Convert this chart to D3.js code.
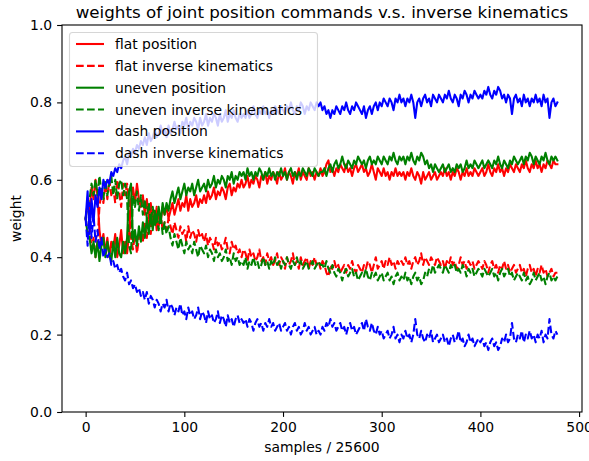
<!DOCTYPE html>
<html>
<head>
<meta charset="utf-8">
<script src="https://cdn.jsdelivr.net/npm/d3@7"></script>
<style>
  html, body { margin: 0; padding: 0; background: #fff; }
  svg { display: block; font-family: "DejaVu Sans", sans-serif; }
</style>
</head>
<body>
<svg id="chart" width="589" height="461"></svg>
<script>
// ---- data (read every 2 steps of "samples / 25600") ----
const sampleStep = 2;
const title = "weights of joint position commands v.s. inverse kinematics";
const xLabel = "samples / 25600";
const yLabel = "weight";
const xTicks = [0, 100, 200, 300, 400, 500];
const yTicks = [0.0, 0.2, 0.4, 0.6, 0.8, 1.0];
const seriesNames = ["flat position", "flat inverse kinematics", "uneven position",
                     "uneven inverse kinematics", "dash position", "dash inverse kinematics"];
const seriesColors = ["#ff0000", "#ff0000", "#008000", "#008000", "#0000ff", "#0000ff"];
const seriesDashed = [false, true, false, true, false, true];

const flatPosition = [
  0.50,0.54,0.52,0.58,0.55,0.60,0.56,0.47,0.43,0.46,0.41,0.45,0.40,0.44,0.42,0.46,0.40,0.43,0.47,0.41,
  0.44,0.41,0.46,0.55,0.58,0.54,0.59,0.55,0.53,0.56,0.51,0.55,0.50,0.54,0.48,0.52,0.47,0.52,0.49,0.53,
  0.51,0.53,0.50,0.52,0.54,0.51,0.53,0.55,0.52,0.54,0.53,0.56,0.52,0.55,0.53,0.54,0.56,0.53,0.55,0.54,
  0.56,0.54,0.57,0.55,0.56,0.58,0.55,0.57,0.56,0.58,0.57,0.55,0.58,0.59,0.56,0.58,0.57,0.59,0.58,0.60,
  0.58,0.59,0.61,0.58,0.60,0.59,0.61,0.60,0.58,0.61,0.60,0.62,0.59,0.61,0.60,0.62,0.61,0.59,0.62,0.60,
  0.61,0.63,0.60,0.62,0.61,0.59,0.62,0.61,0.63,0.60,0.62,0.61,0.60,0.63,0.61,0.62,0.60,0.62,0.61,0.63,
  0.61,0.62,0.64,0.65,0.62,0.63,0.61,0.63,0.62,0.64,0.63,0.62,0.64,0.62,0.63,0.61,0.63,0.64,0.62,0.63,
  0.64,0.62,0.63,0.61,0.62,0.64,0.62,0.60,0.63,0.62,0.61,0.63,0.61,0.62,0.60,0.62,0.61,0.63,0.61,0.62,
  0.61,0.62,0.60,0.62,0.61,0.63,0.61,0.60,0.62,0.61,0.59,0.62,0.60,0.61,0.62,0.60,0.61,0.62,0.60,0.61,
  0.62,0.61,0.63,0.61,0.62,0.60,0.62,0.61,0.63,0.62,0.60,0.62,0.61,0.63,0.61,0.62,0.61,0.63,0.62,0.61,
  0.62,0.63,0.61,0.62,0.64,0.62,0.61,0.63,0.62,0.64,0.62,0.63,0.61,0.63,0.62,0.64,0.63,0.62,0.64,0.63,
  0.62,0.64,0.63,0.65,0.63,0.62,0.64,0.63,0.65,0.63,0.64,0.62,0.64,0.63,0.65,0.64,0.63,0.65,0.64,0.64
];
const flatInverseKinematics = [
  0.50,0.46,0.48,0.42,0.45,0.40,0.44,0.53,0.57,0.54,0.59,0.55,0.60,0.56,0.58,0.54,0.60,0.57,0.53,0.59,
  0.56,0.59,0.54,0.45,0.42,0.46,0.41,0.45,0.47,0.44,0.49,0.45,0.50,0.46,0.52,0.48,0.53,0.48,0.51,0.47,
  0.49,0.47,0.50,0.48,0.46,0.49,0.47,0.45,0.48,0.46,0.47,0.44,0.48,0.45,0.47,0.46,0.44,0.47,0.45,0.46,
  0.44,0.46,0.43,0.45,0.44,0.42,0.45,0.43,0.44,0.42,0.43,0.45,0.42,0.41,0.44,0.42,0.43,0.41,0.42,0.40,
  0.42,0.41,0.39,0.42,0.40,0.41,0.39,0.40,0.42,0.39,0.40,0.38,0.41,0.39,0.40,0.38,0.39,0.41,0.38,0.40,
  0.39,0.37,0.40,0.38,0.39,0.41,0.38,0.39,0.37,0.40,0.38,0.39,0.40,0.37,0.39,0.38,0.40,0.38,0.39,0.37,
  0.39,0.38,0.36,0.35,0.38,0.37,0.39,0.37,0.38,0.36,0.37,0.38,0.36,0.38,0.37,0.39,0.37,0.36,0.38,0.37,
  0.36,0.38,0.37,0.39,0.38,0.36,0.38,0.40,0.37,0.38,0.39,0.37,0.39,0.38,0.40,0.38,0.39,0.37,0.39,0.38,
  0.39,0.38,0.40,0.38,0.39,0.37,0.39,0.40,0.38,0.39,0.41,0.38,0.40,0.39,0.38,0.40,0.39,0.38,0.40,0.39,
  0.38,0.39,0.37,0.39,0.38,0.40,0.38,0.39,0.37,0.38,0.40,0.38,0.39,0.37,0.39,0.38,0.39,0.37,0.38,0.39,
  0.38,0.37,0.39,0.38,0.36,0.38,0.39,0.37,0.38,0.36,0.38,0.37,0.39,0.37,0.38,0.36,0.37,0.38,0.36,0.37,
  0.38,0.36,0.37,0.35,0.37,0.38,0.36,0.37,0.35,0.37,0.36,0.38,0.36,0.37,0.35,0.36,0.37,0.35,0.36,0.36
];
const unevenPosition = [
  0.50,0.46,0.45,0.41,0.44,0.40,0.44,0.39,0.43,0.45,0.40,0.44,0.41,0.39,0.44,0.40,0.45,0.41,0.40,0.44,
  0.41,0.45,0.57,0.59,0.44,0.47,0.43,0.48,0.44,0.49,0.45,0.50,0.46,0.51,0.47,0.52,0.49,0.53,0.49,0.54,
  0.51,0.54,0.52,0.55,0.57,0.54,0.56,0.58,0.55,0.57,0.59,0.56,0.58,0.57,0.59,0.56,0.58,0.60,0.57,0.58,
  0.59,0.57,0.60,0.58,0.59,0.61,0.58,0.60,0.59,0.61,0.60,0.58,0.61,0.60,0.62,0.59,0.61,0.60,0.62,0.61,
  0.62,0.60,0.63,0.61,0.62,0.60,0.62,0.61,0.63,0.62,0.60,0.62,0.61,0.63,0.61,0.62,0.60,0.62,0.61,0.63,
  0.61,0.62,0.60,0.62,0.63,0.61,0.62,0.60,0.62,0.61,0.63,0.62,0.61,0.63,0.62,0.61,0.63,0.62,0.61,0.62,
  0.62,0.63,0.61,0.63,0.64,0.62,0.64,0.65,0.63,0.64,0.66,0.64,0.63,0.65,0.64,0.63,0.65,0.64,0.66,0.65,
  0.64,0.65,0.63,0.65,0.66,0.64,0.65,0.64,0.66,0.65,0.64,0.66,0.65,0.64,0.66,0.65,0.67,0.65,0.64,0.66,
  0.65,0.66,0.64,0.66,0.65,0.67,0.65,0.64,0.66,0.65,0.67,0.66,0.64,0.65,0.63,0.64,0.62,0.64,0.63,0.62,
  0.63,0.64,0.62,0.63,0.64,0.62,0.63,0.62,0.64,0.63,0.64,0.62,0.63,0.65,0.63,0.64,0.63,0.65,0.64,0.63,
  0.64,0.65,0.63,0.64,0.65,0.64,0.63,0.65,0.64,0.66,0.64,0.63,0.65,0.64,0.63,0.65,0.64,0.66,0.65,0.64,
  0.65,0.66,0.64,0.66,0.65,0.67,0.66,0.64,0.66,0.65,0.64,0.66,0.65,0.67,0.65,0.64,0.66,0.65,0.66,0.65
];
const unevenInverseKinematics = [
  0.50,0.54,0.55,0.59,0.56,0.60,0.56,0.61,0.57,0.55,0.60,0.56,0.59,0.61,0.56,0.60,0.55,0.59,0.60,0.56,
  0.59,0.55,0.43,0.41,0.56,0.53,0.57,0.52,0.56,0.51,0.55,0.50,0.54,0.49,0.53,0.48,0.51,0.47,0.51,0.46,
  0.49,0.46,0.48,0.45,0.43,0.46,0.44,0.42,0.45,0.43,0.41,0.44,0.42,0.43,0.41,0.44,0.42,0.40,0.43,0.42,
  0.41,0.43,0.40,0.42,0.41,0.39,0.42,0.40,0.41,0.39,0.40,0.42,0.39,0.40,0.38,0.41,0.39,0.40,0.38,0.39,
  0.38,0.40,0.37,0.39,0.38,0.40,0.38,0.39,0.37,0.38,0.40,0.38,0.39,0.37,0.39,0.38,0.40,0.38,0.39,0.37,
  0.39,0.38,0.40,0.38,0.37,0.39,0.38,0.40,0.38,0.39,0.37,0.38,0.39,0.37,0.38,0.39,0.37,0.38,0.39,0.38,
  0.38,0.37,0.39,0.37,0.36,0.38,0.36,0.35,0.37,0.36,0.34,0.36,0.37,0.35,0.36,0.37,0.35,0.36,0.34,0.35,
  0.36,0.35,0.37,0.35,0.34,0.36,0.35,0.36,0.34,0.35,0.36,0.34,0.35,0.36,0.34,0.35,0.33,0.35,0.36,0.34,
  0.35,0.34,0.36,0.34,0.35,0.33,0.35,0.36,0.34,0.35,0.33,0.34,0.36,0.35,0.37,0.36,0.38,0.36,0.37,0.38,
  0.37,0.36,0.38,0.37,0.36,0.38,0.37,0.38,0.36,0.37,0.36,0.38,0.37,0.35,0.37,0.36,0.37,0.35,0.36,0.37,
  0.36,0.35,0.37,0.36,0.35,0.36,0.37,0.35,0.36,0.34,0.36,0.37,0.35,0.36,0.37,0.35,0.36,0.34,0.35,0.36,
  0.35,0.34,0.36,0.34,0.35,0.33,0.34,0.36,0.34,0.35,0.36,0.34,0.35,0.33,0.35,0.36,0.34,0.35,0.34,0.35
];
const dashPosition = [
  0.50,0.57,0.46,0.55,0.49,0.56,0.53,0.58,0.55,0.60,0.58,0.60,0.59,0.62,0.61,0.63,0.62,0.64,0.63,0.65,
  0.66,0.64,0.67,0.66,0.68,0.67,0.69,0.68,0.70,0.69,0.71,0.69,0.72,0.70,0.71,0.73,0.71,0.72,0.74,0.72,
  0.73,0.71,0.74,0.72,0.73,0.75,0.73,0.74,0.72,0.75,0.74,0.76,0.73,0.75,0.74,0.76,0.75,0.73,0.76,0.74,
  0.75,0.77,0.74,0.76,0.75,0.77,0.76,0.74,0.77,0.75,0.76,0.78,0.75,0.77,0.76,0.78,0.76,0.75,0.77,0.76,
  0.77,0.76,0.78,0.76,0.77,0.79,0.77,0.76,0.78,0.77,0.79,0.77,0.78,0.76,0.78,0.77,0.79,0.78,0.77,0.79,
  0.78,0.77,0.79,0.78,0.80,0.78,0.77,0.79,0.78,0.80,0.79,0.77,0.79,0.78,0.80,0.79,0.78,0.80,0.79,0.80,
  0.78,0.79,0.77,0.78,0.76,0.78,0.77,0.79,0.78,0.77,0.79,0.78,0.80,0.78,0.77,0.79,0.78,0.80,0.79,0.78,
  0.77,0.79,0.76,0.78,0.79,0.77,0.79,0.80,0.78,0.80,0.79,0.81,0.80,0.79,0.81,0.80,0.78,0.81,0.80,0.82,
  0.80,0.81,0.79,0.81,0.80,0.82,0.80,0.76,0.80,0.81,0.79,0.81,0.82,0.80,0.81,0.79,0.82,0.81,0.80,0.82,
  0.81,0.80,0.82,0.81,0.83,0.81,0.80,0.82,0.81,0.79,0.82,0.81,0.83,0.82,0.80,0.82,0.81,0.83,0.82,0.81,
  0.82,0.81,0.83,0.82,0.84,0.82,0.81,0.83,0.82,0.84,0.83,0.81,0.82,0.80,0.82,0.81,0.77,0.81,0.82,0.80,
  0.81,0.79,0.82,0.80,0.81,0.79,0.81,0.80,0.82,0.80,0.81,0.79,0.82,0.80,0.81,0.76,0.80,0.81,0.79,0.80
];
const dashInverseKinematics = [
  0.50,0.43,0.54,0.45,0.51,0.44,0.47,0.42,0.45,0.40,0.42,0.40,0.41,0.38,0.39,0.37,0.38,0.36,0.37,0.35,
  0.34,0.36,0.33,0.34,0.32,0.33,0.31,0.32,0.30,0.31,0.29,0.31,0.28,0.30,0.29,0.27,0.29,0.28,0.26,0.28,
  0.27,0.29,0.26,0.28,0.27,0.25,0.27,0.26,0.28,0.25,0.26,0.24,0.27,0.25,0.26,0.24,0.25,0.27,0.24,0.26,
  0.25,0.23,0.26,0.24,0.25,0.23,0.24,0.26,0.23,0.25,0.24,0.22,0.25,0.23,0.24,0.22,0.24,0.25,0.23,0.24,
  0.23,0.24,0.22,0.24,0.23,0.21,0.23,0.24,0.22,0.23,0.21,0.23,0.22,0.24,0.22,0.23,0.21,0.22,0.23,0.21,
  0.22,0.23,0.21,0.22,0.20,0.22,0.23,0.21,0.22,0.20,0.21,0.23,0.21,0.22,0.20,0.21,0.22,0.20,0.21,0.20,
  0.22,0.21,0.23,0.22,0.24,0.22,0.23,0.21,0.22,0.23,0.21,0.22,0.20,0.22,0.23,0.21,0.22,0.20,0.21,0.22,
  0.23,0.21,0.24,0.22,0.21,0.23,0.21,0.20,0.22,0.20,0.21,0.19,0.20,0.21,0.19,0.20,0.22,0.19,0.20,0.18,
  0.20,0.19,0.21,0.19,0.20,0.18,0.20,0.24,0.20,0.19,0.21,0.19,0.18,0.20,0.19,0.21,0.18,0.19,0.20,0.18,
  0.19,0.20,0.18,0.19,0.17,0.19,0.20,0.18,0.19,0.21,0.18,0.19,0.17,0.18,0.20,0.18,0.19,0.17,0.18,0.19,
  0.18,0.19,0.17,0.18,0.16,0.18,0.19,0.17,0.18,0.16,0.17,0.19,0.18,0.20,0.18,0.19,0.23,0.19,0.18,0.20,
  0.19,0.21,0.18,0.20,0.19,0.21,0.19,0.20,0.18,0.20,0.19,0.21,0.18,0.20,0.19,0.24,0.20,0.19,0.21,0.20
];
const seriesValues = [flatPosition, flatInverseKinematics, unevenPosition,
                      unevenInverseKinematics, dashPosition, dashInverseKinematics];

// ---- layout ----
const m = { left: 62, right: 582, top: 25, bottom: 412 };
const svg = d3.select("#chart");

const x = d3.scaleLinear().domain([-23.95, 502.95]).range([m.left, m.right]);
const y = d3.scaleLinear().domain([0, 1]).range([m.bottom, m.top]);

const fontSize = 13.9;
const lw = 2.08;

// lines
const line = d3.line().x((d, i) => x(i * sampleStep)).y(d => y(d));
const gLines = svg.append("g");
seriesValues.forEach((vals, k) => {
  gLines.append("path")
    .datum(vals)
    .attr("d", line)
    .attr("fill", "none")
    .attr("stroke", seriesColors[k])
    .attr("stroke-width", lw)
    .attr("stroke-linejoin", "round")
    .attr("stroke-linecap", seriesDashed[k] ? "butt" : "square")
    .attr("stroke-dasharray", seriesDashed[k] ? "7.7,3.3" : null);
});

// axes
const xAxis = d3.axisBottom(x).tickValues(xTicks).tickSize(4.9).tickPadding(4.9)
  .tickFormat(d3.format("d"));
const yAxis = d3.axisLeft(y).tickValues(yTicks).tickSize(4.9).tickPadding(4.9)
  .tickFormat(d3.format(".1f"));

const gx = svg.append("g").attr("transform", `translate(0,${m.bottom})`).call(xAxis);
const gy = svg.append("g").attr("transform", `translate(${m.left},0)`).call(yAxis);
[gx, gy].forEach(g => {
  g.select(".domain").remove();
  g.selectAll(".tick line").attr("stroke", "#000").attr("stroke-width", 1.1);
  g.selectAll(".tick text").attr("fill", "#000")
    .attr("font-family", "DejaVu Sans, sans-serif").attr("font-size", fontSize);
});

// spines
svg.append("rect")
  .attr("x", m.left).attr("y", m.top)
  .attr("width", m.right - m.left).attr("height", m.bottom - m.top)
  .attr("fill", "none").attr("stroke", "#000").attr("stroke-width", 1.1);

// labels
svg.append("text")
  .attr("x", (m.left + m.right) / 2).attr("y", 447)
  .attr("text-anchor", "middle").attr("dominant-baseline", "central")
  .attr("font-size", fontSize).attr("fill", "#000").text(xLabel);
svg.append("text")
  .attr("transform", `translate(16,${(m.top + m.bottom) / 2}) rotate(-90)`)
  .attr("text-anchor", "middle").attr("dominant-baseline", "central")
  .attr("font-size", fontSize).attr("fill", "#000").text(yLabel);
svg.append("text")
  .attr("x", (m.left + m.right) / 2).attr("y", 12)
  .attr("text-anchor", "middle").attr("dominant-baseline", "central")
  .attr("font-size", 16.7).attr("fill", "#000").text(title);

// legend
const leg = svg.append("g");
leg.append("rect")
  .attr("x", 69.5).attr("y", 32.5).attr("width", 248).attr("height", 134)
  .attr("rx", 3).attr("ry", 3)
  .attr("fill", "rgba(255,255,255,0.8)")
  .attr("stroke", "rgba(204,204,204,0.8)").attr("stroke-width", 1.1);
seriesNames.forEach((name, k) => {
  const cy = 44 + k * 21.85;
  leg.append("line")
    .attr("x1", 76).attr("x2", 104).attr("y1", cy).attr("y2", cy)
    .attr("stroke", seriesColors[k]).attr("stroke-width", lw)
    .attr("stroke-dasharray", seriesDashed[k] ? "7.7,3.3" : null);
  leg.append("text")
    .attr("x", 115).attr("y", cy)
    .attr("dominant-baseline", "central")
    .attr("font-size", fontSize).attr("fill", "#000").text(name);
});
</script>
</body>
</html>
